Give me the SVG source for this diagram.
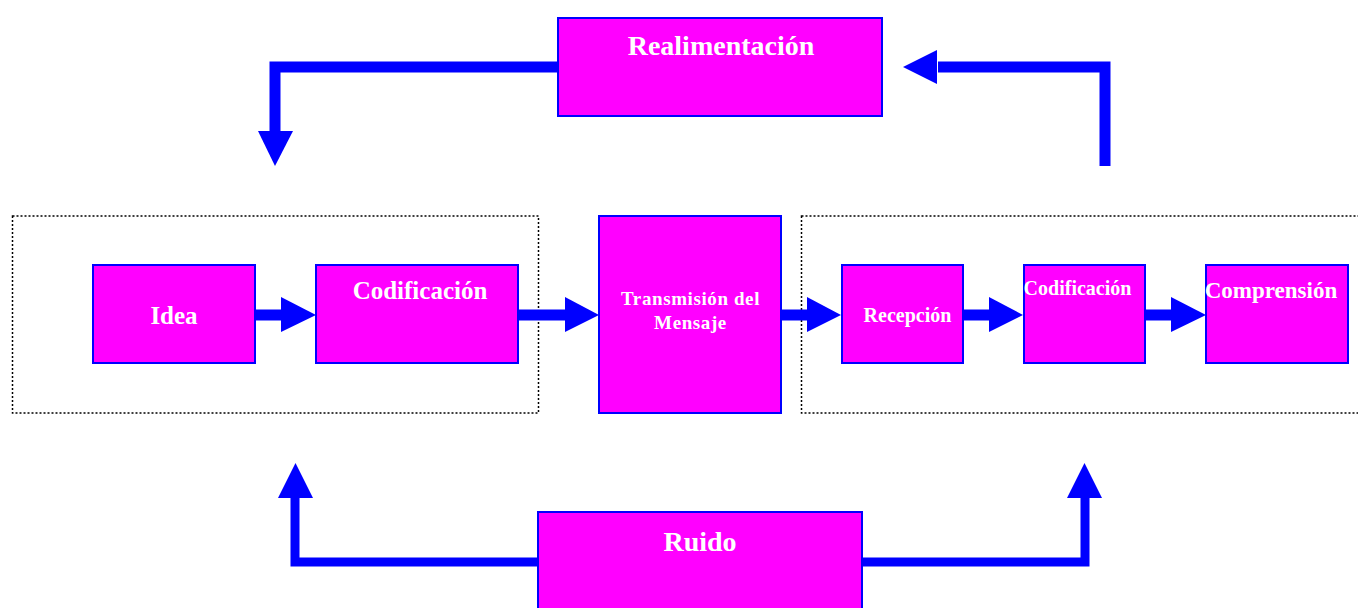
<svg xmlns="http://www.w3.org/2000/svg" width="1358" height="608" viewBox="0 0 1358 608">
<style>
.box{fill:#FF00FF;stroke:#0000FF;stroke-width:2}
.grp{fill:none;stroke:#000;stroke-width:1.5;stroke-dasharray:2 2}
.ln{fill:none;stroke:#0000FF;stroke-linejoin:miter}
.hd{fill:#0000FF}
.t{fill:#fff;font-family:"Liberation Serif","Times New Roman",serif;font-weight:bold;text-anchor:middle}
</style>
<rect width="1358" height="608" fill="#fff"/>
<g id="groups">
<rect class="grp" x="12.5" y="216" width="526" height="197"/>
<rect class="grp" x="801.5" y="216" width="570" height="197"/>
</g>
<g id="connectors">
<polyline class="ln" stroke-width="11" points="558,67 275,67 275,132"/>
<polygon class="hd" points="258,131 293,131 275,166"/>
<polyline class="ln" stroke-width="11" points="1105,166 1105,67 938,67"/>
<polygon class="hd" points="937,50 937,84 903,67"/>
<polyline class="ln" stroke-width="9" points="538,562 295,562 295,497"/>
<polygon class="hd" points="278,498 313,498 295.5,463"/>
<polyline class="ln" stroke-width="9" points="862,562 1085,562 1085,497"/>
<polygon class="hd" points="1067,498 1102,498 1084.5,463"/>
<line class="ln" stroke-width="11" x1="255" y1="315" x2="282" y2="315"/>
<polygon class="hd" points="281,297 281,332 316,315"/>
<line class="ln" stroke-width="11" x1="518" y1="315" x2="566" y2="315"/>
<polygon class="hd" points="565,297 565,332 599,315"/>
<line class="ln" stroke-width="11" x1="781" y1="315" x2="808" y2="315"/>
<polygon class="hd" points="807,297 807,332 841,315"/>
<line class="ln" stroke-width="11" x1="963" y1="315" x2="990" y2="315"/>
<polygon class="hd" points="989,297 989,332 1023,315"/>
<line class="ln" stroke-width="11" x1="1145" y1="315" x2="1172" y2="315"/>
<polygon class="hd" points="1171,297 1171,332 1206,315"/>
</g>
<g id="realimentacion">
<rect class="box" x="558" y="18" width="324" height="98"/>
<text class="t" x="721" y="55" font-size="28">Realimentación</text>
</g>
<g id="idea">
<rect class="box" x="93" y="265" width="162" height="98"/>
<text class="t" x="174" y="324" font-size="25">Idea</text>
</g>
<g id="codificacion1">
<rect class="box" x="316" y="265" width="202" height="98"/>
<text class="t" x="420" y="299" font-size="25">Codificación</text>
</g>
<g id="transmision">
<rect class="box" x="599" y="216" width="182" height="197"/>
<text class="t" x="690.5" y="305" font-size="19" letter-spacing="0.6">Transmisión del</text>
<text class="t" x="690.5" y="329" font-size="19" letter-spacing="0.6">Mensaje</text>
</g>
<g id="recepcion">
<rect class="box" x="842" y="265" width="121" height="98"/>
<text class="t" x="907.5" y="322" font-size="20">Recepción</text>
</g>
<g id="codificacion2">
<rect class="box" x="1024" y="265" width="121" height="98"/>
<text class="t" x="1077.5" y="295" font-size="20">Codificación</text>
</g>
<g id="comprension">
<rect class="box" x="1206" y="265" width="142" height="98"/>
<text class="t" x="1271" y="298" font-size="23">Comprensión</text>
</g>
<g id="ruido">
<rect class="box" x="538" y="512" width="324" height="110"/>
<text class="t" x="700" y="551" font-size="28">Ruido</text>
</g>
</svg>
